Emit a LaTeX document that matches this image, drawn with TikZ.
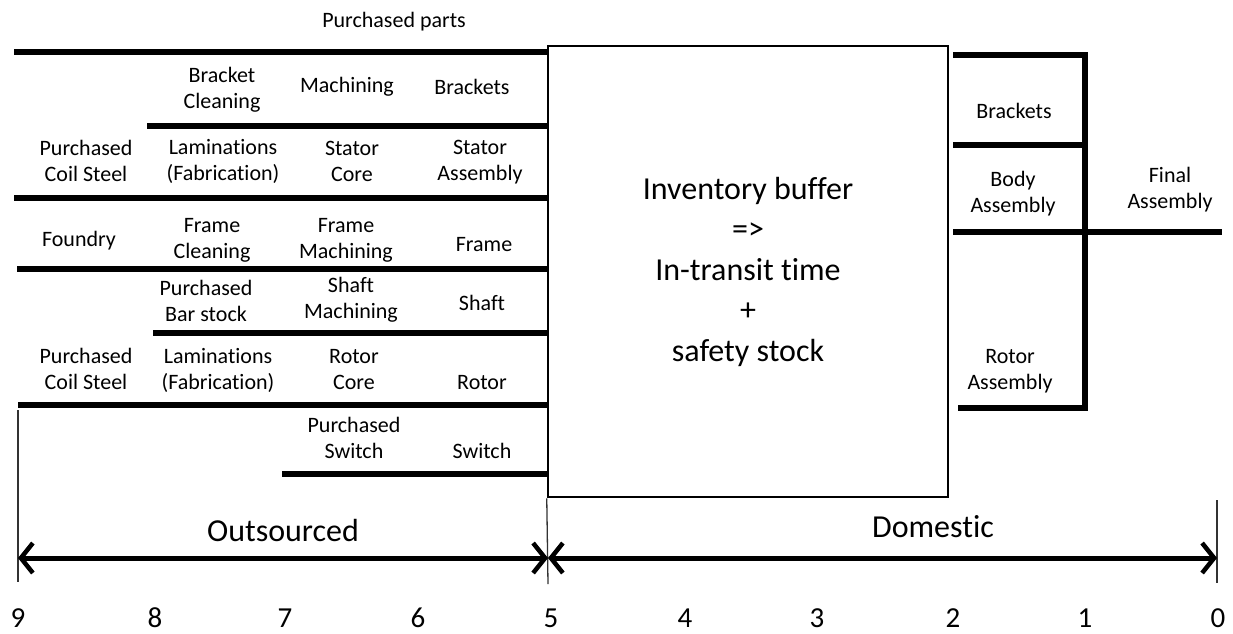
\documentclass[tikz,border=0pt]{standalone}
\usepackage{fontspec}
\setmainfont{Carlito}[Ligatures={NoCommon}]
\usetikzlibrary{arrows.meta}
\usetikzlibrary{calc}
\tikzstyle{lbl} = [align=center, inner sep=0pt, font=\fontsize{22}{26}\selectfont]
\tikzstyle{big} = [align=center, inner sep=0pt, font=\fontsize{32}{40.5}\selectfont]
\tikzstyle{num} = [inner sep=0pt, anchor=base, font=\fontsize{29}{32}\selectfont]
\tikzstyle{flow} = [line width=6pt]
\tikzstyle{buffer} = [rectangle, draw, line width=2.5pt, minimum width=400pt,
                      minimum height=451pt, inner sep=0pt]
\tikzstyle{tick} = [line width=1.3pt, black!80]
\tikzstyle{span} = [line width=5pt, {Straight Barb[length=12pt,width=30pt,line width=4.5pt]}-{Straight Barb[length=12pt,width=30pt,line width=4.5pt]}]

\begin{document}
\begin{tikzpicture}[x=1pt,y=-1pt]
    \useasboundingbox (0,0) rectangle (1233,633);
    \node[buffer, big] (inv) at (748,271.5) {Inventory buffer\\=>\\In-transit time\\+\\safety stock};
    % outsourced supply lines into the buffer
    \coordinate (parts) at (14,52);
    \coordinate (brk) at (147,126);
    \coordinate (sta) at (14,198);
    \coordinate (frm) at (17,269);
    \coordinate (sha) at (153,333);
    \coordinate (rot) at (18,405);
    \coordinate (swi) at (282,474);
    \foreach \c in {parts,brk,sta,frm,sha,rot,swi}
        \draw[flow] (\c) -- (\c -| inv.west);
    \node[lbl] (pparts) at (394,22) {Purchased parts};
    \node[lbl] (bclean) at (222,90) {Bracket\\Cleaning};
    \node[lbl] (bmach) at (347,87) {Machining};
    \node[lbl] (bout) at (472,87) {Brackets};
    \node[lbl] (scoil) at (86,161) {Purchased\\Coil Steel};
    \node[lbl] (slam) at (223,161) {Laminations\\(Fabrication)};
    \node[lbl] (score) at (352,161) {Stator\\Core};
    \node[lbl] (sout) at (480,162) {Stator\\Assembly};
    \node[lbl] (found) at (79,241) {Foundry};
    \node[lbl] (fclean) at (212,240) {Frame\\Cleaning};
    \node[lbl] (fmach) at (346,240) {Frame\\Machining};
    \node[lbl] (fout) at (484,245) {Frame};
    \node[lbl] (bar) at (206,301) {Purchased\\Bar stock};
    \node[lbl] (smach) at (351,300) {Shaft\\Machining};
    \node[lbl] (shout) at (482,303) {Shaft};
    \node[lbl] (rcoil) at (86,369) {Purchased\\Coil Steel};
    \node[lbl] (rlam) at (218,370) {Laminations\\(Fabrication)};
    \node[lbl] (rcore) at (354,370) {Rotor\\Core};
    \node[lbl] (rout) at (482,383) {Rotor};
    \node[lbl] (pswi) at (354,438) {Purchased\\Switch};
    \node[lbl] (swout) at (482,451) {Switch};
    % domestic assembly on the right
    \coordinate (bus) at (1085,52);
    \draw[flow] (bus) -- (1085,411);
    \draw[flow] ($(inv.east |- 0,55)+(4,0)$) -- (bus |- 0,55);
    \draw[flow] ($(inv.east |- 0,145)+(4,0)$) -- (bus |- 0,145);
    \draw[flow] ($(inv.east |- 0,232)+(4,0)$) -- (1222,232);
    \draw[flow] ($(inv.east |- 0,408)+(9,0)$) -- (1088,408);
    \node[lbl] (rbrk) at (1014,111) {Brackets};
    \node[lbl] (body) at (1013,194) {Body\\Assembly};
    \node[lbl] (final) at (1170,190) {Final\\Assembly};
    \node[lbl] (rasm) at (1010,371) {Rotor\\Assembly};
    % time scale
    \coordinate (t9) at (18,558);
    \coordinate (t5) at (548,558);
    \coordinate (t0) at (1217,558);
    \draw[tick] (18,410) -- (18,582);
    \draw[tick] (inv.south west) -- (548,584);
    \draw[tick] (1217,500) -- (1217,583);
    \draw[span] (t9) -- (t5);
    \draw[span] (t5) -- (t0);
    \node[big] (outs) at (283,530) {Outsourced};
    \node[big] (dom) at (933,527) {Domestic};
    \foreach \v/\x in {9/18,8/155,7/285,6/418,5/551,4/685,3/817,2/953,1/1085,0/1218}
        \node[num] (n\v) at (\x,627) {\v};
\end{tikzpicture}
\end{document}
